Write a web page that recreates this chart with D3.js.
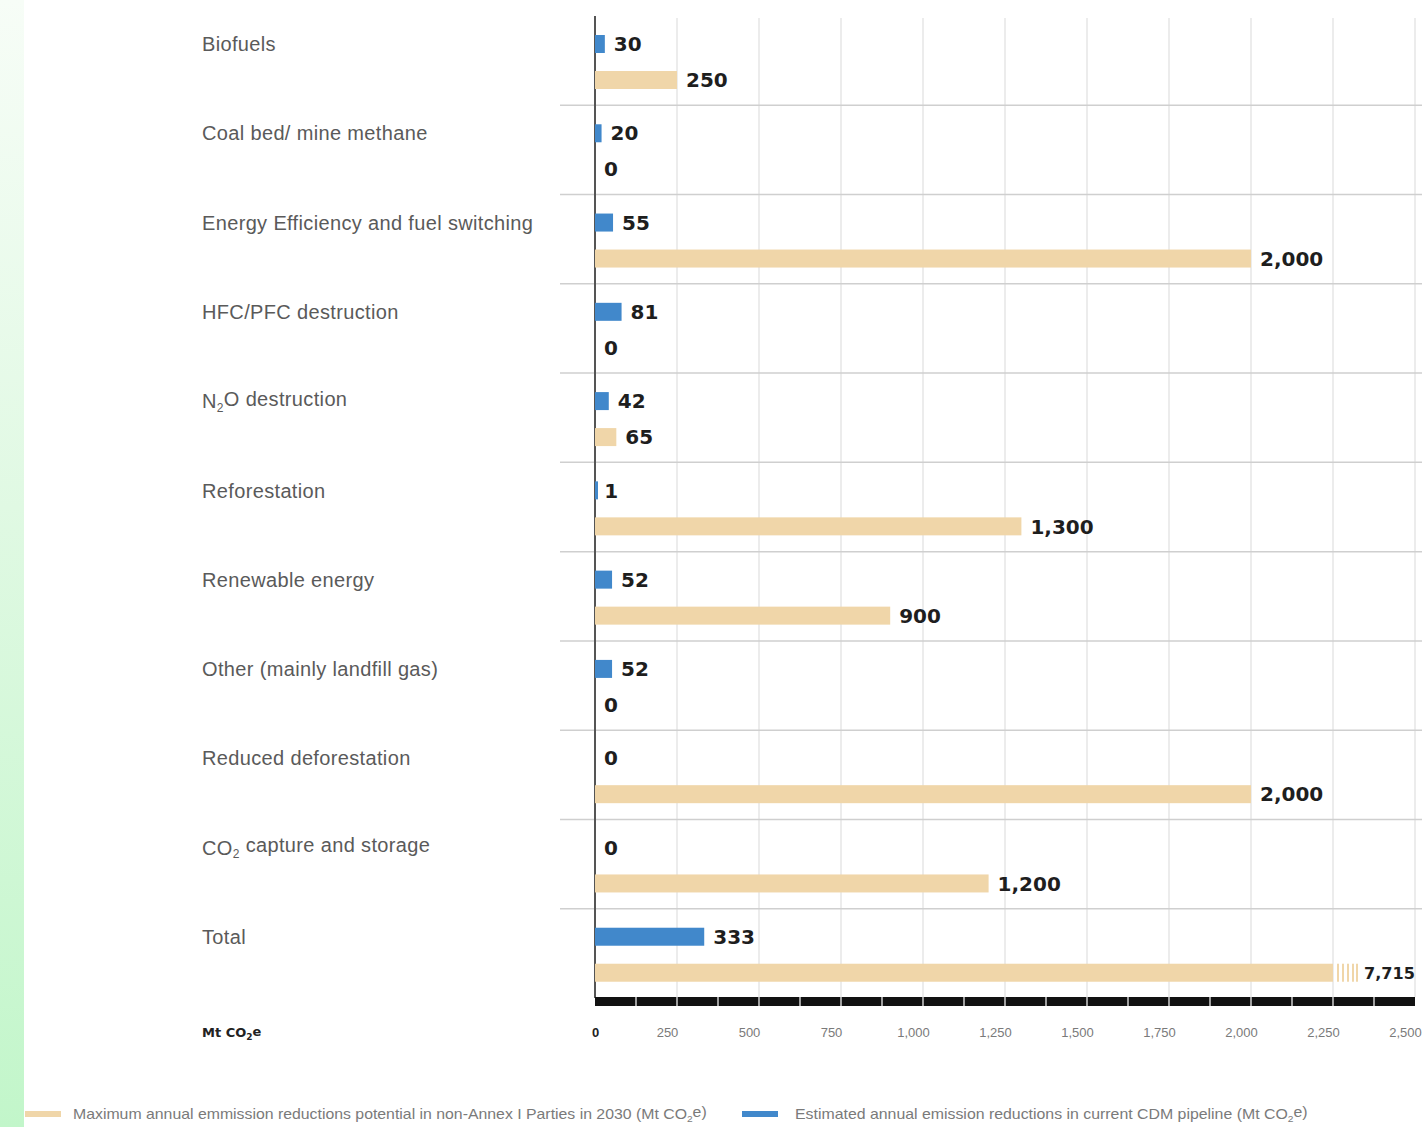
<!DOCTYPE html>
<html><head><meta charset="utf-8">
<script src="https://cdn.jsdelivr.net/npm/d3@7"></script>
<style>
html,body{margin:0;padding:0;background:#fff;}
svg{display:block;}
</style></head>
<body>
<script>
const categories = ["Biofuels","Coal bed/ mine methane","Energy Efficiency and fuel switching","HFC/PFC destruction","N₂O destruction","Reforestation","Renewable energy","Other (mainly landfill gas)","Reduced deforestation","CO₂ capture and storage","Total"];
const cdmPipeline = [30,20,55,81,42,1,52,52,0,0,333];
const potential2030 = [250,0,2000,0,65,1300,900,0,2000,1200,7715];
const tickValues = [0,250,500,750,1000,1250,1500,1750,2000,2250,2500];
const legendLabels = ["Maximum annual emmission reductions potential in non-Annex I Parties in 2030 (Mt CO₂e)","Estimated annual emission reductions in current CDM pipeline (Mt CO₂e)"];
const unitLabel = "Mt CO₂e";
const axisBreakAt = 2250;

const W = 1422, H = 1127;
const BLUE = "#4188cb", TAN = "#f0d6a9";
const svg = d3.select("body").append("svg").attr("width", W).attr("height", H);

// left green strip
const defs = svg.append("defs");
const g1 = defs.append("linearGradient").attr("id","gstrip").attr("x1",0).attr("y1",0).attr("x2",0).attr("y2",1);
g1.append("stop").attr("offset","0%").attr("stop-color","#f7fdf7");
g1.append("stop").attr("offset","45%").attr("stop-color","#e0f9e3");
g1.append("stop").attr("offset","100%").attr("stop-color","#c2f6ca");
svg.append("rect").attr("x",0).attr("y",0).attr("width",24).attr("height",H).attr("fill","url(#gstrip)");

const x = d3.scaleLinear().domain([0,2500]).range([595,1415]);
const y = d3.scaleBand().domain(categories).range([16,998]).padding(0);

// subscript helper
function addText(sel, str, subSize) {
  const parts = str.split("₂");
  parts.forEach((p,i) => {
    if (i > 0) {
      sel.append("tspan").attr("font-size", subSize).attr("dy", "0.3em").text("2");
      sel.append("tspan").attr("dy", "-0.3em").text(p);
    } else sel.append("tspan").text(p);
  });
}

// vertical gridlines
svg.append("g").selectAll("line").data(tickValues.slice(1)).join("line")
  .attr("x1", d => x(d)).attr("x2", d => x(d))
  .attr("y1", 18).attr("y2", 997)
  .attr("stroke", "#d9d9d9").attr("stroke-width", 1);

// horizontal separators
svg.append("g").selectAll("line").data(categories.slice(1)).join("line")
  .attr("x1", 560).attr("x2", W)
  .attr("y1", d => y(d)).attr("y2", d => y(d))
  .attr("stroke", "#cfcfcf").attr("stroke-width", 1.5);

// category labels
svg.append("g").selectAll("text").data(categories).join("text")
  .attr("x", 202).attr("y", d => y(d) + 28).attr("dy", "0.36em")
  .attr("font-family", "Liberation Sans, Arial, sans-serif")
  .attr("font-size", 20).attr("letter-spacing", 0.35).attr("fill", "#5a5a5a")
  .each(function(d){ addText(d3.select(this), d, 12); });

// vertical zero axis line (under bars)
svg.append("line").attr("x1", x(0)).attr("x2", x(0)).attr("y1", 16).attr("y2", 998)
  .attr("stroke", "#555").attr("stroke-width", 2);

const labelFont = "DejaVu Sans, sans-serif";

// tan bars (potential 2030)
const tanG = svg.append("g");
tanG.selectAll("rect").data(categories).join("rect")
  .attr("x", x(0))
  .attr("y", d => y(d) + 64 - 9)
  .attr("width", (d,i) => x(Math.min(potential2030[i], axisBreakAt)) - x(0))
  .attr("height", 18).attr("fill", TAN);
// axis break stripes for values beyond the axis
categories.forEach((c,i) => {
  if (potential2030[i] > axisBreakAt) {
    [4,9,14,19,23].forEach(o => {
      tanG.append("rect").attr("x", x(axisBreakAt) + o).attr("y", y(c) + 55)
        .attr("width", 2).attr("height", 18).attr("fill", TAN);
    });
  }
});
tanG.selectAll("text").data(categories).join("text")
  .attr("x", (d,i) => potential2030[i] > axisBreakAt ? x(axisBreakAt) + 31 : x(potential2030[i]) + 9)
  .attr("y", d => y(d) + 64).attr("dy", "0.36em")
  .attr("font-family", labelFont).attr("font-weight", "bold")
  .attr("font-size", 20).attr("fill", "#1e1e1e")
  .text((d,i) => d3.format(",")(potential2030[i]))
  .each(function(d,i){
    if (potential2030[i] > axisBreakAt) {
      const t = d3.select(this);
      const w = this.getComputedTextLength();
      const avail = x(2500) - (x(axisBreakAt) + 31);
      if (w > avail) t.attr("font-size", Math.floor(20 * avail / w * 10) / 10);
    }
  });

// blue bars (CDM pipeline)
const blueG = svg.append("g");
blueG.selectAll("rect").data(categories).join("rect")
  .attr("x", x(0))
  .attr("y", d => y(d) + 28 - 9)
  .attr("width", (d,i) => cdmPipeline[i] > 0 ? Math.max(3, x(cdmPipeline[i]) - x(0)) : 0)
  .attr("height", 18).attr("fill", BLUE);
blueG.selectAll("text").data(categories).join("text")
  .attr("x", (d,i) => x(cdmPipeline[i]) + 9)
  .attr("y", d => y(d) + 28).attr("dy", "0.36em")
  .attr("font-family", labelFont).attr("font-weight", "bold")
  .attr("font-size", 20).attr("fill", "#1e1e1e")
  .text((d,i) => d3.format(",")(cdmPipeline[i]));

// black axis bar with segment separators
svg.append("rect").attr("x", x(0)).attr("y", 997).attr("width", x(2500) - x(0)).attr("height", 9).attr("fill", "#111");
svg.append("g").selectAll("line").data(d3.range(125, 2500, 125)).join("line")
  .attr("x1", d => x(d)).attr("x2", d => x(d)).attr("y1", 997).attr("y2", 1006)
  .attr("stroke", "#fff").attr("stroke-width", 1.2);

// axis ticks
const axis = d3.axisBottom(x).tickValues(tickValues).tickSize(0).tickFormat(d3.format(","));
const axG = svg.append("g").attr("transform", "translate(0,1025)").call(axis);
axG.select(".domain").remove();
axG.selectAll("text")
  .attr("font-family", "Liberation Sans, Arial, sans-serif")
  .attr("font-size", 13)
  .attr("dx", d => d === 0 ? 0 : -10)
  .attr("font-weight", d => d === 0 ? "bold" : "normal")
  .attr("fill", d => d === 0 ? "#222" : "#7a7a7a");

// unit label
const ul = svg.append("text").attr("x", 202).attr("y", 1037)
  .attr("font-family", labelFont).attr("font-weight", "bold")
  .attr("font-size", 13).attr("fill", "#222");
addText(ul, unitLabel, 9);

// legend
const legendX = [[25, 73, 707], [742, 795, 1308]];
const legendColors = [TAN, BLUE];
legendLabels.forEach((lab, i) => {
  const [sx, tx, te] = legendX[i];
  svg.append("rect").attr("x", sx).attr("y", 1111).attr("width", 36).attr("height", 6).attr("fill", legendColors[i]);
  const t = svg.append("text").attr("x", tx).attr("y", 1119)
    .attr("font-family", "Liberation Sans, Arial, sans-serif")
    .attr("font-size", 14).attr("fill", "#7a7a7a");
  addText(t, lab, 9);
  const w = t.node().getComputedTextLength();
  const s = (te - tx) / w;
  t.attr("transform", `translate(${tx},0) scale(${s},1) translate(${-tx},0)`);
});
</script>
</body></html>
